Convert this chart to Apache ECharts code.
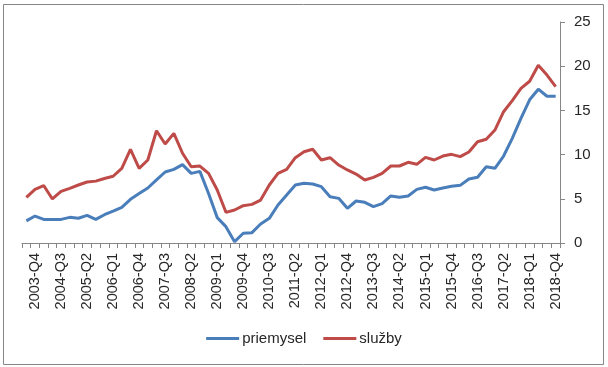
<!DOCTYPE html>
<html>
<head>
<meta charset="utf-8">
<script src="https://cdn.jsdelivr.net/npm/echarts@6/dist/echarts.min.js"></script>
<style>html,body{margin:0;padding:0;background:#fff}#c{width:608px;height:367px}</style>
</head>
<body>
<div id="c"></div>
<script>
const categories = [
'2003-Q3','2003-Q4','2004-Q1','2004-Q2','2004-Q3','2004-Q4','2005-Q1','2005-Q2','2005-Q3','2005-Q4',
'2006-Q1','2006-Q2','2006-Q3','2006-Q4','2007-Q1','2007-Q2','2007-Q3','2007-Q4','2008-Q1','2008-Q2',
'2008-Q3','2008-Q4','2009-Q1','2009-Q2','2009-Q3','2009-Q4','2010-Q1','2010-Q2','2010-Q3','2010-Q4',
'2011-Q1','2011-Q2','2011-Q3','2011-Q4','2012-Q1','2012-Q2','2012-Q3','2012-Q4','2013-Q1','2013-Q2',
'2013-Q3','2013-Q4','2014-Q1','2014-Q2','2014-Q3','2014-Q4','2015-Q1','2015-Q2','2015-Q3','2015-Q4',
'2016-Q1','2016-Q2','2016-Q3','2016-Q4','2017-Q1','2017-Q2','2017-Q3','2017-Q4','2018-Q1','2018-Q2',
'2018-Q3','2018-Q4'];
const priemysel = [2.5,3.05,2.67,2.67,2.67,2.9,2.8,3.13,2.67,3.2,3.6,4.03,4.94,5.6,6.22,7.13,8.03,8.33,8.86,7.88,
8.1,5.6,2.87,1.85,0.15,1.1,1.17,2.15,2.79,4.3,5.43,6.56,6.75,6.67,6.37,5.24,5.05,3.92,4.75,4.6,
4.11,4.45,5.32,5.17,5.32,6.07,6.3,6.0,6.22,6.41,6.52,7.24,7.43,8.63,8.45,9.84,11.84,14.1,16.2,17.4,
16.6,16.6];
const sluzby = [5.17,6.07,6.5,4.98,5.84,6.18,6.56,6.9,7.0,7.3,7.55,8.45,10.6,8.45,9.39,12.7,11.2,12.4,10.15,8.63,
8.7,7.88,6.0,3.47,3.73,4.22,4.37,4.86,6.56,7.88,8.33,9.65,10.33,10.6,9.39,9.65,8.82,8.26,7.8,7.13,
7.43,7.88,8.71,8.71,9.13,8.9,9.69,9.39,9.84,10.03,9.77,10.3,11.46,11.73,12.78,14.85,16.1,17.5,18.3,20.1,
19.0,17.7];
const yTicks = {min: 0, max: 25, step: 5};
const seriesNames = ['priemysel', 'služby'];

const chart = echarts.init(document.getElementById('c'), null, {renderer: 'canvas'});
chart.setOption({
  animation: false,
  textStyle: {fontFamily: 'Liberation Sans'},
  graphic: [{
    type: 'rect', left: 3, top: 4, z: -1,
    shape: {width: 600, height: 360},
    style: {fill: '#fff', stroke: '#868686', lineWidth: 1}
  }],
  grid: {left: 22, right: 48, top: 22, bottom: 124, containLabel: false},
  legend: {
    bottom: 16, left: 'center',
    itemWidth: 33, itemHeight: 3, itemGap: 17,
    icon: 'rect',
    textStyle: {fontSize: 15, color: '#262626', fontFamily: 'Liberation Sans', padding: [0, 0, 0, -2]},
    data: seriesNames
  },
  xAxis: {
    type: 'category',
    data: categories,
    boundaryGap: true,
    axisLine: {lineStyle: {color: '#868686', width: 1}},
    axisTick: {show: true, interval: 0, length: 5, lineStyle: {color: '#868686'}},
    axisLabel: {
      interval: (i) => i % 3 === 1,
      rotate: 90, margin: 10,
      fontSize: 14.5, color: '#262626', fontFamily: 'Liberation Sans'
    },
    splitLine: {show: false}
  },
  yAxis: {
    type: 'value', position: 'right',
    min: yTicks.min, max: yTicks.max, interval: yTicks.step,
    axisLine: {show: true, lineStyle: {color: '#868686', width: 1}},
    axisTick: {show: true, length: 5, lineStyle: {color: '#868686'}},
    axisLabel: {margin: 14, fontSize: 15, color: '#262626', fontFamily: 'Liberation Sans'},
    splitLine: {show: false}
  },
  series: [
    {name: seriesNames[0], type: 'line', data: priemysel, symbol: 'none',
     lineStyle: {width: 3, color: '#4A7EBB'}, itemStyle: {color: '#4A7EBB'}},
    {name: seriesNames[1], type: 'line', data: sluzby, symbol: 'none',
     lineStyle: {width: 3, color: '#BE4B48'}, itemStyle: {color: '#BE4B48'}}
  ]
});
</script>
</body>
</html>
